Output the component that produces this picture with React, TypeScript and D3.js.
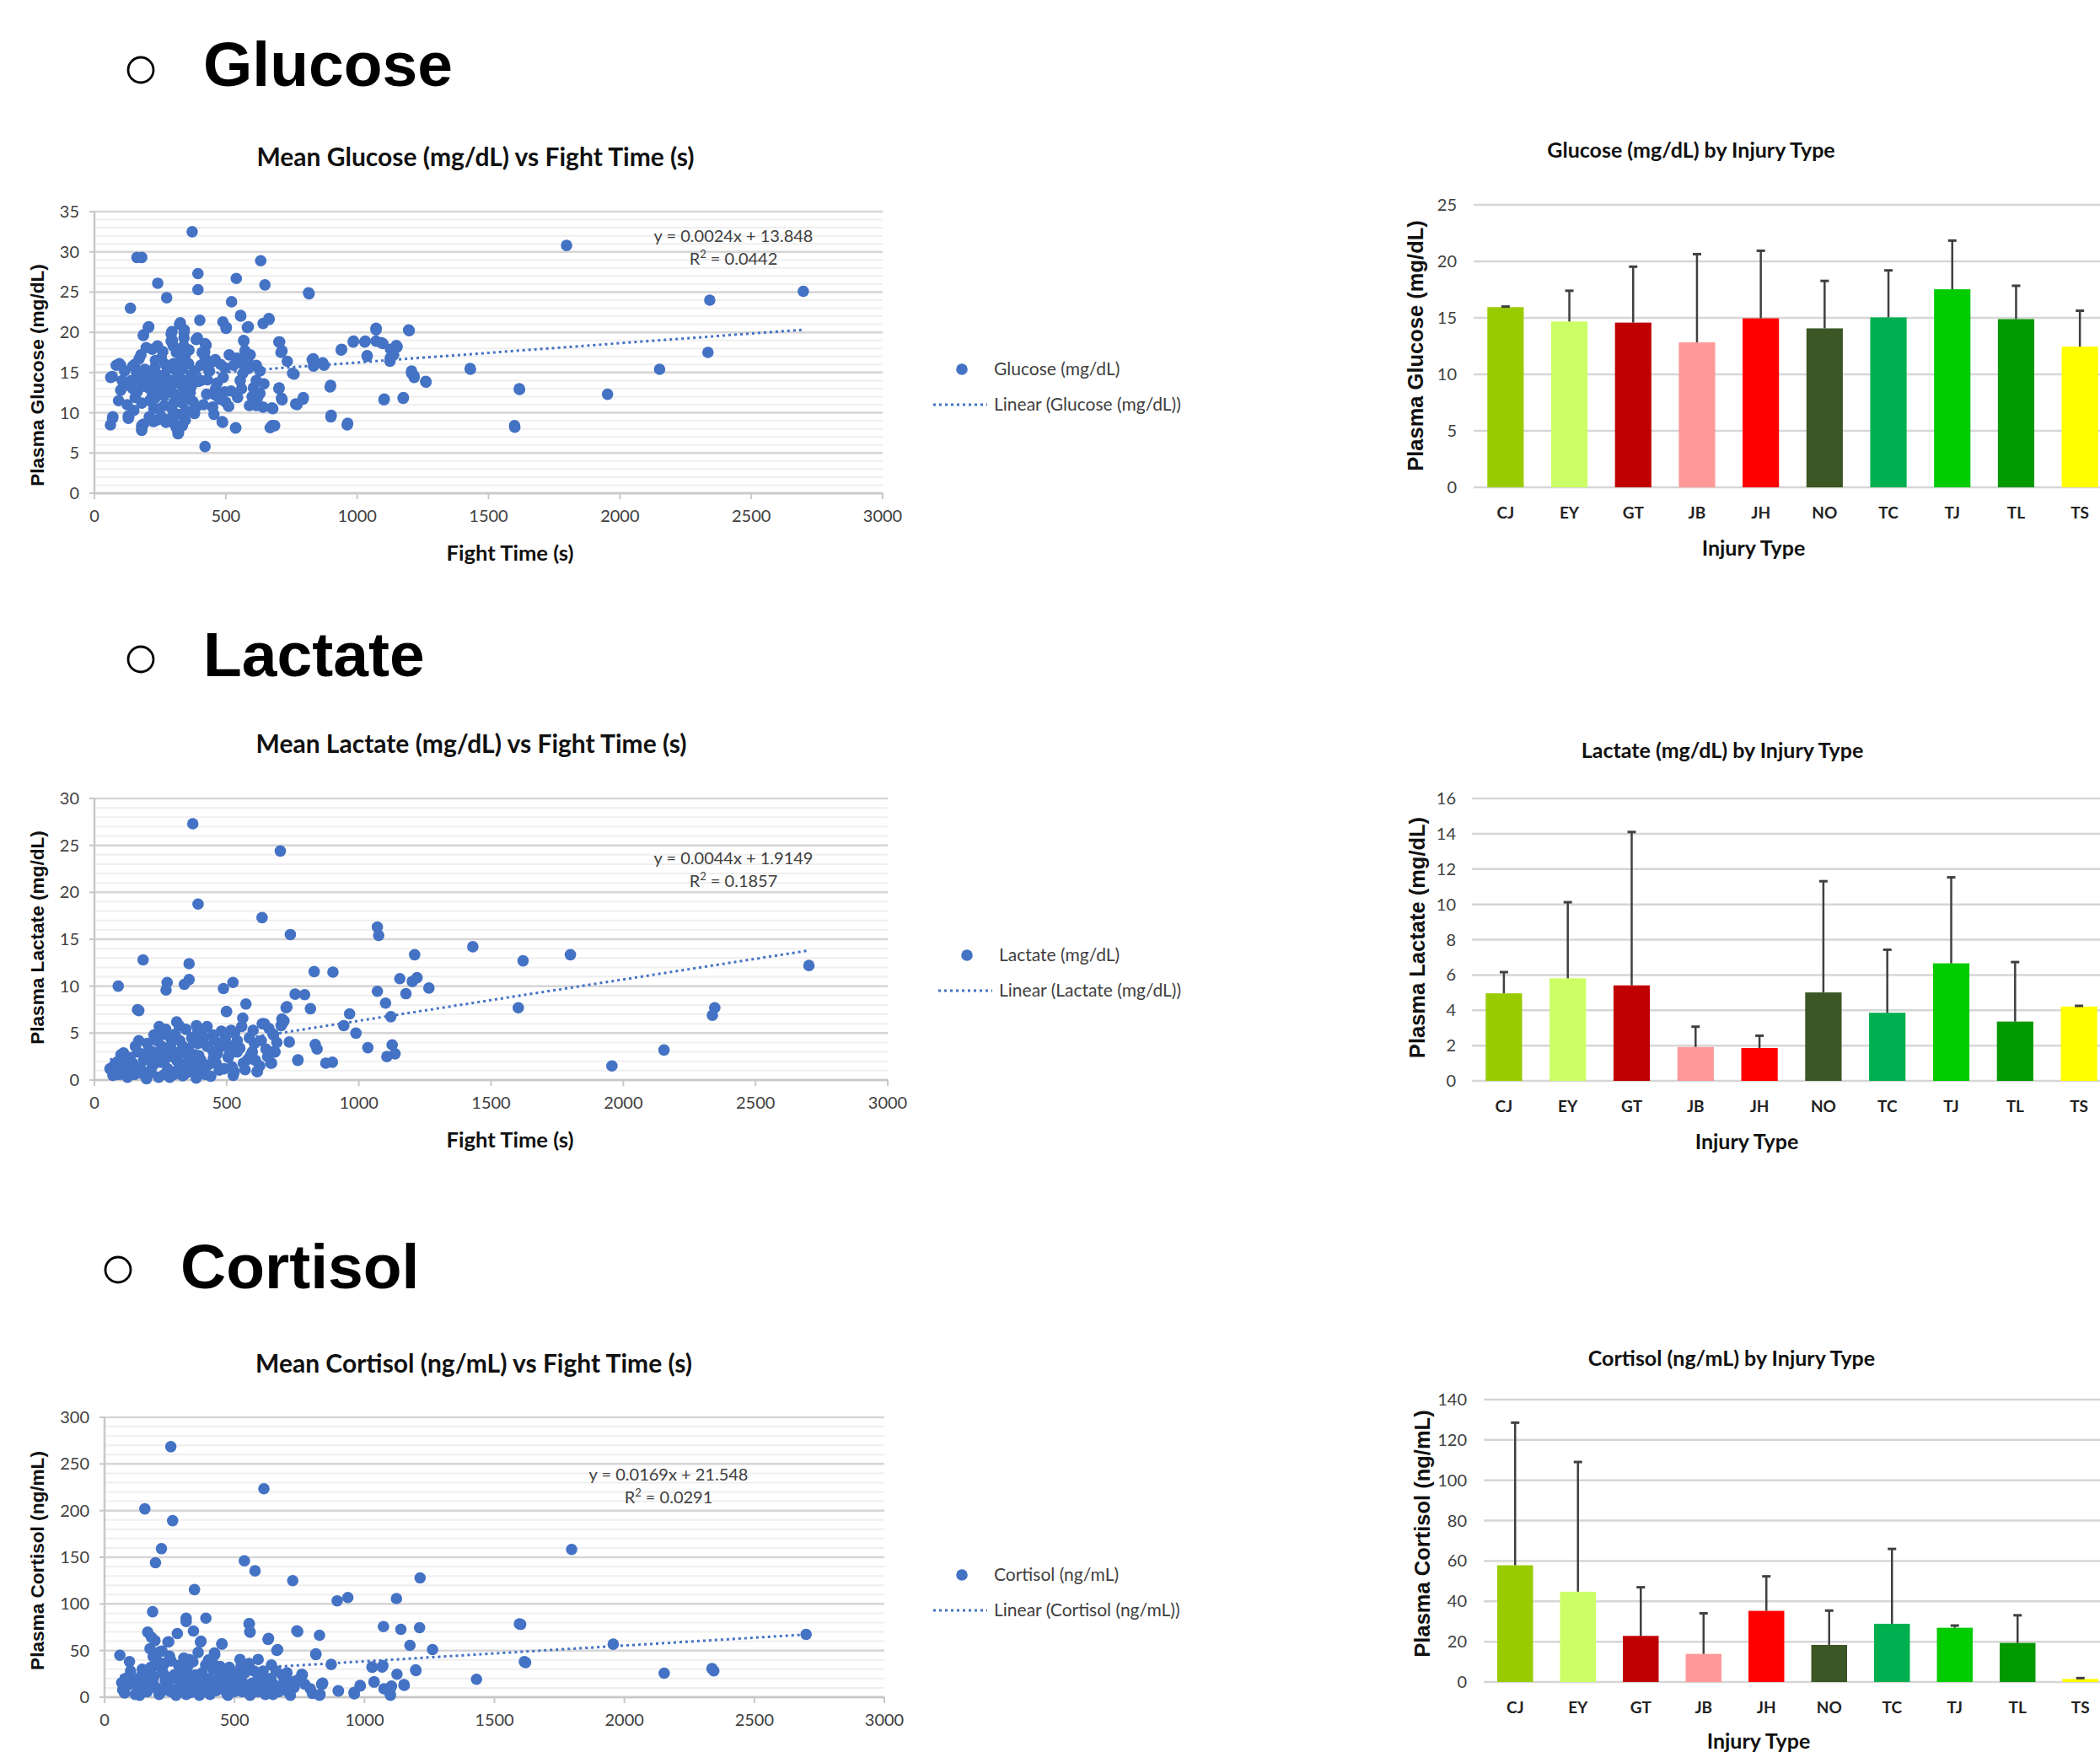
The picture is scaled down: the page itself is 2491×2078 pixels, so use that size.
import React from 'react'
import * as d3 from 'd3'

// ---- bar chart data (by injury type) ----
const injuryTypes = ['CJ', 'EY', 'GT', 'JB', 'JH', 'NO', 'TC', 'TJ', 'TL', 'TS']
const injuryColors = ['#99CC00', '#CCFF66', '#C00000', '#FF9999', '#FF0000', '#3B5725', '#00B050', '#00CC00', '#009900', '#FFFF00']

const glucoseMeans = [15.95, 14.68, 14.58, 12.83, 14.96, 14.07, 15.04, 17.53, 14.89, 12.45]
const glucoseErr = [0.05, 2.72, 4.95, 7.81, 5.98, 4.2, 4.16, 4.31, 2.95, 3.18]
const lactateMeans = [4.96, 5.81, 5.41, 1.92, 1.86, 5.01, 3.86, 6.66, 3.36, 4.21]
const lactateErr = [1.2, 4.31, 8.69, 1.15, 0.7, 6.3, 3.57, 4.87, 3.37, 0.04]
const cortisolMeans = [57.87, 44.76, 22.87, 13.94, 35.28, 18.4, 28.87, 26.9, 19.38, 1.53]
const cortisolErr = [70.7, 64.3, 24.1, 20.1, 17.1, 17.0, 37.1, 1.1, 13.7, 0.42]

// ---- scatter data: [fight time (s), value] ----
const glucosePoints: [number, number][] = [
  [372, 32.5], [162, 29.3], [180, 29.3], [633, 28.9], [394, 27.3], [540, 26.7], [649, 25.9], [241, 26.1],
  [394, 25.3], [815, 24.9], [275, 24.3], [522, 23.8], [137, 23.0], [556, 22.1], [664, 21.7], [401, 21.5],
  [642, 21.1], [327, 21.2], [489, 21.3], [502, 20.6], [207, 20.7], [586, 20.7], [187, 19.7], [295, 20.1],
  [342, 20.3], [1072, 20.5], [1196, 20.3], [297, 19.0], [392, 19.3], [568, 19.0], [986, 18.9], [1031, 18.9],
  [705, 18.8], [421, 18.6], [1092, 18.7], [1149, 18.35], [941, 17.9], [714, 17.7], [1038, 17.1], [1126, 16.8],
  [734, 16.4], [833, 16.7], [869, 16.2], [1430, 15.5], [2698, 25.1], [2342, 24.0], [1797, 30.8], [2335, 17.5],
  [2151, 15.4], [1617, 13.0], [1953, 12.3], [1599, 8.4], [1207, 15.2], [1216, 14.6], [1261, 13.9], [1103, 11.7],
  [1176, 11.9], [964, 8.7], [901, 9.7], [899, 13.4], [795, 11.9], [766, 11.1], [712, 11.8], [703, 13.1],
  [754, 14.9], [676, 10.6], [676, 8.4], [669, 8.15], [486, 8.9], [538, 8.15], [421, 5.8], [320, 7.5],
  [180, 8.0], [187, 8.6], [61, 8.5], [70, 9.5], [131, 9.5], [92, 11.5], [68, 14.5], [95, 16.1], [153, 16.0],
  [69, 9.3], [62, 14.4], [83, 15.9], [100, 15.9], [129, 9.6], [129, 9.3], [146, 15.8], [180, 8.4], [180, 7.8],
  [177, 17.2], [186, 19.6], [205, 20.6], [197, 18.1], [220, 17.9], [292, 19.8], [292, 18.9], [324, 21.0],
  [341, 20.0], [341, 19.3], [387, 19.1], [425, 18.4], [410, 17.5], [421, 16.8], [436, 15.2], [501, 20.5],
  [557, 22.0], [582, 20.6], [569, 18.9], [573, 17.7], [593, 17.2], [665, 21.6], [616, 15.9], [630, 15.2],
  [702, 18.8], [710, 17.5], [760, 14.8], [702, 13.0], [714, 11.6], [679, 10.5], [686, 8.4], [642, 10.7],
  [616, 10.9], [590, 10.9], [630, 12.4], [605, 13.1], [555, 14.0], [560, 13.0], [537, 8.1], [488, 8.8],
  [511, 10.8], [450, 10.7], [478, 11.7], [456, 12.3], [427, 12.3], [461, 13.0], [490, 14.4], [496, 15.6],
  [438, 15.2], [381, 9.9], [346, 9.1], [318, 7.4], [312, 8.1], [272, 8.8], [238, 9.1], [209, 9.5], [226, 10.5],
  [266, 10.9], [295, 10.5], [324, 9.8], [335, 11.2], [358, 11.9], [369, 13.3], [335, 13.3], [312, 14.0],
  [289, 12.6], [266, 12.1], [243, 12.6], [220, 12.1], [180, 11.2], [163, 12.6], [146, 13.0], [129, 13.7],
  [106, 14.0], [180, 13.7], [197, 14.4], [215, 14.9], [243, 14.7], [266, 14.7], [192, 15.4], [232, 16.5],
  [255, 16.8], [278, 15.4], [301, 16.1], [312, 17.5], [335, 17.7], [358, 16.1], [381, 15.2], [404, 14.0],
  [335, 15.4], [312, 15.2], [289, 14.0], [369, 14.7], [346, 12.6], [324, 11.9], [301, 11.2], [249, 10.5],
  [266, 13.7], [226, 13.7], [163, 14.4], [140, 14.0], [346, 14.0], [467, 13.7], [496, 12.6], [530, 15.9],
  [542, 16.8], [513, 17.2], [565, 16.1], [587, 16.1], [576, 16.8], [616, 14.0], [817, 24.8], [829, 16.6],
  [834, 15.8], [874, 15.9], [897, 13.2], [900, 9.5], [962, 8.5], [939, 17.8], [985, 18.8], [1029, 18.8],
  [1072, 20.3], [1072, 18.9], [1098, 18.6], [1038, 17.0], [1127, 17.9], [1152, 18.2], [1139, 17.2],
  [1125, 16.4], [1198, 20.2], [1207, 14.9], [1217, 14.4], [1262, 13.8], [1102, 11.6], [1175, 11.8],
  [1431, 15.4], [1618, 12.9], [1600, 8.2], [771, 11.0], [794, 11.7],
  [100, 12.8], [115, 15.2], [125, 11.0], [150, 10.3], [160, 15.1], [170, 16.7], [205, 13.1], [210, 11.5],
  [230, 15.6], [250, 14.0], [260, 12.9], [270, 16.0], [285, 15.8], [300, 13.6], [305, 12.3], [320, 14.6],
  [330, 16.6], [345, 17.0], [355, 13.8], [365, 12.5], [375, 11.4], [385, 10.6], [395, 13.9], [405, 15.9],
  [415, 11.0], [430, 14.1], [445, 16.3], [455, 9.8], [470, 12.0], [480, 16.0], [500, 11.3], [520, 12.7],
  [545, 11.9], [565, 14.9], [585, 15.5], [600, 12.0], [620, 11.8], [645, 13.6], [225, 8.9], [255, 9.5],
  [290, 9.3], [305, 8.6], [335, 8.4], [350, 10.2], [230, 11.8], [190, 13.3], [155, 11.9], [110, 13.3],
  [340, 18.3], [300, 18.3], [260, 17.6], [240, 18.3], [360, 17.8], [460, 16.6], [420, 17.6],
]

const lactatePoints: [number, number][] = [
  [372, 27.3], [703, 24.4], [392, 18.75], [634, 17.3], [741, 15.5], [1070, 16.3], [1075, 15.4], [1431, 14.2],
  [1211, 13.35], [1621, 12.7], [1800, 13.35], [2702, 12.2], [2346, 7.7], [2337, 6.9], [1603, 7.7], [2154, 3.2],
  [1957, 1.5], [184, 12.8], [358, 12.4], [90, 10.0], [275, 10.4], [271, 9.6], [358, 10.7], [340, 10.2],
  [488, 9.75], [524, 10.4], [163, 7.5], [168, 7.4], [499, 7.3], [573, 8.1], [831, 11.55], [902, 11.5],
  [759, 9.15], [795, 9.1], [725, 7.7], [817, 7.6], [1070, 9.45], [1101, 8.2], [1178, 9.2], [1155, 10.8],
  [1220, 10.9], [1202, 10.5], [1265, 9.8], [1121, 6.75], [965, 7.05], [943, 5.8], [989, 5.0], [737, 4.05],
  [770, 2.15], [835, 3.8], [842, 3.3], [875, 1.8], [900, 1.9], [1034, 3.45], [1126, 3.75], [1137, 2.8],
  [1106, 2.5], [710, 6.0], [728, 7.8], [676, 4.9], [678, 3.0], [636, 6.0], [667, 1.8], [616, 0.9],
  [59, 1.2], [100, 2.7], [105, 0.9], [134, 2.4], [168, 4.2], [151, 0.6], [197, 0.15], [225, 4.8], [245, 5.7],
  [240, 2.4], [265, 0.6], [288, 4.5], [311, 6.2], [346, 5.4], [386, 5.8], [391, 3.9], [426, 5.7], [449, 4.8],
  [420, 0.6], [368, 0.9], [323, 1.8], [300, 3.0], [277, 1.2], [220, 1.5], [186, 2.1], [140, 0.9], [254, 3.6],
  [334, 3.6], [357, 2.4], [403, 2.1], [460, 1.8], [483, 3.6], [500, 7.3], [517, 5.3], [540, 3.0], [561, 6.6],
  [557, 5.7], [586, 4.5], [615, 0.9], [635, 6.0], [643, 6.0], [631, 4.2], [649, 3.3], [677, 4.8], [683, 3.0],
  [670, 1.8], [709, 6.5], [717, 6.3], [706, 5.8], [769, 2.1], [609, 2.1], [563, 1.8], [529, 0.9], [506, 2.4],
  [472, 1.05], [597, 3.0], [117, 1.8], [208, 0.9], [300, 0.6], [391, 1.35], [334, 0.45], [243, 0.3],
  [174, 1.2], [265, 2.1], [311, 2.1], [380, 2.7], [449, 3.0], [426, 3.6], [288, 3.6], [220, 3.0], [163, 3.0],
  [128, 1.5], [94, 0.6], [254, 4.8], [323, 4.2], [368, 4.5], [472, 3.9], [517, 3.6], [391, 5.1], [75, 1.6],
  [212, 2.6], [280, 2.8], [352, 1.6], [410, 1.0], [450, 2.3], [520, 1.4], [580, 2.2], [540, 4.2], [600, 5.3],
  [70, 0.5], [85, 1.9], [110, 2.9], [125, 0.3], [145, 1.8], [155, 3.6], [180, 0.7], [190, 2.8], [200, 3.9],
  [215, 0.8], [230, 2.0], [235, 4.2], [250, 1.9], [260, 3.1], [270, 5.4], [285, 0.3], [295, 2.5], [305, 4.9],
  [315, 1.1], [330, 2.9], [345, 0.7], [355, 3.3], [365, 2.0], [375, 4.0], [385, 0.2], [395, 2.6], [415, 4.6],
  [430, 1.6], [440, 0.4], [455, 4.2], [465, 2.8], [490, 1.2], [495, 4.4], [510, 2.7], [525, 0.5], [550, 3.4],
  [570, 1.1], [590, 2.6], [605, 3.9], [625, 1.5], [655, 2.5], [660, 5.5], [690, 4.0], [530, 5.0], [480, 5.2],
  [320, 5.8], [265, 5.2],
]

const cortisolPoints: [number, number][] = [
  [255, 268.5], [613, 223.4], [155, 201.8], [262, 189.2], [219, 159.2], [196, 144.1], [538, 146.2],
  [579, 135.4], [724, 124.9], [1214, 127.9], [1797, 158.3], [346, 115.3], [895, 103.3], [936, 106.9],
  [1123, 105.7], [185, 91.6], [314, 84.7], [314, 81.1], [390, 84.7], [556, 78.7], [560, 69.7], [1073, 75.7],
  [1140, 72.7], [1212, 74.5], [1601, 78.1], [2699, 67.3], [1957, 56.8], [2153, 25.8], [2337, 30.6],
  [2344, 28.2], [1620, 37.2], [1431, 19.2], [743, 70.3], [827, 66.4], [629, 61.9], [663, 50.2], [813, 45.6],
  [872, 35.1], [1175, 55.6], [1262, 51.1], [1198, 28.5], [1030, 32.1], [1068, 32.4], [1125, 24.6],
  [1037, 16.2], [1153, 12.6], [984, 12.0], [961, 3.6], [900, 6.6], [1100, 9.6], [1100, 2.1], [836, 14.1],
  [827, 2.1], [759, 24.6], [702, 26.1], [59, 45.0], [96, 38.1], [166, 69.7], [180, 64.3], [194, 60.7],
  [244, 59.2], [280, 68.2], [342, 70.9], [369, 59.2], [451, 57.1], [424, 45.6], [212, 48.6], [178, 32.1],
  [66, 15.6], [95, 13.5], [77, 4.5], [141, 22.5], [118, 3.0], [187, 43.5], [181, 31.5], [221, 49.5],
  [247, 59.4], [371, 60.0], [325, 40.5], [360, 48.0], [389, 34.5], [423, 47.4], [452, 57.0], [452, 27.0],
  [417, 30.0], [256, 39.0], [221, 30.0], [268, 24.0], [302, 30.0], [337, 21.0], [380, 18.0], [187, 15.0],
  [233, 18.0], [291, 12.0], [164, 6.0], [210, 3.0], [256, 6.0], [314, 3.0], [360, 9.0], [406, 3.0],
  [459, 9.0], [498, 6.0], [521, 40.5], [556, 36.0], [591, 40.5], [642, 34.5], [631, 63.0], [666, 51.0],
  [557, 78.9], [559, 70.2], [761, 24.0], [740, 71.1], [813, 46.5], [836, 13.5], [829, 3.0], [899, 6.9],
  [960, 5.1], [983, 12.6], [1029, 32.4], [1071, 33.9], [1037, 16.5], [1075, 9.0], [1098, 4.5], [1104, 12.0],
  [1152, 13.5], [1197, 29.4], [1596, 78.6], [1615, 38.1], [619, 3.0], [648, 3.0], [683, 9.0], [706, 6.0],
  [729, 10.5], [792, 9.0], [839, 15.0], [487, 18.0], [510, 24.0], [533, 15.0], [568, 15.0], [591, 19.5],
  [614, 15.0], [475, 24.0], [683, 24.0], [706, 18.0], [740, 18.0], [130, 10.0], [150, 18.0], [200, 10.0],
  [240, 14.0], [270, 8.0], [300, 16.0], [330, 11.0], [350, 24.0], [380, 6.0], [420, 12.0], [440, 20.0],
  [470, 4.0], [500, 12.0], [530, 6.0], [580, 9.0], [600, 22.0], [650, 14.0], [110, 20.0], [280, 22.0],
  [320, 33.0], [230, 36.0], [400, 40.0], [540, 26.0], [480, 32.0], [660, 28.0], [720, 12.0],
  [70, 8], [80, 20], [100, 28], [120, 14], [135, 2], [145, 30], [160, 26], [170, 9], [175, 52], [190, 22],
  [205, 38], [215, 5], [225, 26], [235, 8], [250, 44], [260, 20], [275, 2], [285, 34], [295, 9], [305, 42],
  [315, 25], [330, 5], [340, 38], [355, 16], [365, 2], [375, 26], [390, 12], [405, 20], [415, 38], [430, 7],
  [445, 33], [460, 15], [475, 2], [490, 27], [505, 20], [515, 8], [525, 33], [545, 12], [560, 2], [575, 28],
  [590, 6], [610, 28], [625, 10], [640, 20], [670, 6], [690, 16], [715, 2], [770, 14], [800, 4],
]

const fightTicks = [0, 500, 1000, 1500, 2000, 2500, 3000]

const BLUE = '#4472C4'
const LABEL_FONT = 'Lato, "Open Sans", sans-serif'
const AXIS_TITLE_FONT = '"Liberation Sans", Arial, sans-serif'

type Box = { left: number; right: number; top: number; bottom: number }

function Scatter(props: {
  points: [number, number][]
  box: Box
  yMax: number
  yStep: number
  minor: number
  slope: number
  intercept: number
  eq: string
  r2: string
  eqX: number
  eqY: number
  title: string
  titleX: number
  titleY: number
  yTitle: string
  yTitleX: number
  yTitleY: number
  xTitleY: number
  legendName: string
  legendX: number
  legendY: number
}) {
  const { box, points } = props
  const x = d3.scaleLinear().domain([0, 3000]).range([box.left, box.right])
  const y = d3.scaleLinear().domain([0, props.yMax]).range([box.bottom, box.top])
  const minorTicks = d3.range(0, props.yMax + 0.001, props.minor)
  const majorTicks = d3.range(0, props.yMax + 0.001, props.yStep)
  const xs = points.map(p => p[0])
  const x0 = d3.min(xs) as number
  const x1 = d3.max(xs) as number
  const trend = d3.line<number>().x(d => x(d)).y(d => y(props.slope * d + props.intercept))

  return (
    <g>
      <text x={props.titleX} y={props.titleY} textAnchor="middle" fontFamily={LABEL_FONT} fontWeight={700} fontSize={30} fill="#111">
        {props.title}
      </text>
      {minorTicks.map(t => (
        <line key={'mi' + t} x1={box.left} x2={box.right} y1={y(t)} y2={y(t)} stroke="#efefef" strokeWidth={2} />
      ))}
      {majorTicks.map(t => (
        <line key={'ma' + t} x1={box.left} x2={box.right} y1={y(t)} y2={y(t)} stroke="#d6d6d6" strokeWidth={2.5} />
      ))}
      <line x1={box.left} x2={box.left} y1={box.top} y2={box.bottom} stroke="#c8c8c8" strokeWidth={2.5} />
      <line x1={box.left} x2={box.right} y1={box.bottom} y2={box.bottom} stroke="#c8c8c8" strokeWidth={2.5} />
      {majorTicks.map(t => (
        <g key={'yt' + t}>
          <line x1={box.left - 6} x2={box.left} y1={y(t)} y2={y(t)} stroke="#c8c8c8" strokeWidth={2} />
          <text x={box.left - 18} y={y(t) + 7} textAnchor="end" fontFamily={LABEL_FONT} fontSize={20} fill="#404040">
            {t}
          </text>
        </g>
      ))}
      {fightTicks.map(t => (
        <g key={'xt' + t}>
          <line x1={x(t)} x2={x(t)} y1={box.bottom} y2={box.bottom + 7} stroke="#c8c8c8" strokeWidth={2} />
          <text x={x(t)} y={box.bottom + 34} textAnchor="middle" fontFamily={LABEL_FONT} fontSize={20} fill="#404040">
            {t}
          </text>
        </g>
      ))}
      <path d={trend([x0, x1]) || ''} fill="none" stroke={BLUE} strokeWidth={3} strokeDasharray="3 4" />
      {points.map((p, i) => (
        <circle key={i} cx={x(p[0])} cy={y(p[1])} r={6.8} fill={BLUE} />
      ))}
      <text x={props.eqX} y={props.eqY} textAnchor="middle" fontFamily={LABEL_FONT} fontSize={20} fill="#404040">
        {props.eq}
      </text>
      <text x={props.eqX} y={props.eqY + 27} textAnchor="middle" fontFamily={LABEL_FONT} fontSize={20} fill="#404040">
        R<tspan fontSize={13} dy={-8}>2</tspan>
        <tspan dy={8}>{' = ' + props.r2}</tspan>
      </text>
      <text
        transform={`translate(${props.yTitleX},${props.yTitleY}) rotate(-90)`}
        textAnchor="middle"
        fontFamily={AXIS_TITLE_FONT}
        fontWeight={700}
        fontSize={22.6}
        fill="#111"
      >
        {props.yTitle}
      </text>
      <text x={605} y={props.xTitleY} textAnchor="middle" fontFamily={LABEL_FONT} fontWeight={700} fontSize={25.6} fill="#111">
        Fight Time (s)
      </text>
      <circle cx={props.legendX} cy={props.legendY} r={6.8} fill={BLUE} />
      <text x={props.legendX + 38} y={props.legendY + 7} fontFamily={LABEL_FONT} fontSize={21} fill="#404040">
        {props.legendName}
      </text>
      <line
        x1={props.legendX - 34}
        x2={props.legendX + 30}
        y1={props.legendY + 42}
        y2={props.legendY + 42}
        stroke={BLUE}
        strokeWidth={3}
        strokeDasharray="3 4"
      />
      <text x={props.legendX + 38} y={props.legendY + 49} fontFamily={LABEL_FONT} fontSize={21} fill="#404040">
        {'Linear (' + props.legendName + ')'}
      </text>
    </g>
  )
}

function Bars(props: {
  means: number[]
  errs: number[]
  yMax: number
  yStep: number
  left: number
  step: number
  top: number
  bottom: number
  labelRight: number
  title: string
  titleX: number
  titleY: number
  yTitle: string
  yTitleX: number
  yTitleY: number
  xTitleX: number
  xTitleY: number
}) {
  const x = d3
    .scaleBand<string>()
    .domain(injuryTypes)
    .range([props.left, props.left + props.step * injuryTypes.length])
    .paddingInner(0.43)
    .paddingOuter(0.215)
  const y = d3.scaleLinear().domain([0, props.yMax]).range([props.bottom, props.top])
  const ticks = d3.range(0, props.yMax + 0.001, props.yStep)
  const bw = x.bandwidth()
  return (
    <g>
      <text x={props.titleX} y={props.titleY} textAnchor="middle" fontFamily={LABEL_FONT} fontWeight={700} fontSize={25} fill="#111">
        {props.title}
      </text>
      {ticks.map(t => (
        <g key={t}>
          <line x1={props.left} x2={2491} y1={y(t)} y2={y(t)} stroke="#d6d6d6" strokeWidth={2.5} />
          <text x={props.labelRight} y={y(t) + 7} textAnchor="end" fontFamily={LABEL_FONT} fontSize={20} fill="#404040">
            {t}
          </text>
        </g>
      ))}
      {injuryTypes.map((c, i) => {
        const cx = (x(c) as number) + bw / 2
        const top = y(props.means[i])
        const et = y(props.means[i] + props.errs[i])
        return (
          <g key={c}>
            <rect x={x(c)} y={top} width={bw} height={props.bottom - top} fill={injuryColors[i]} />
            <line x1={cx} x2={cx} y1={top} y2={et} stroke="#404040" strokeWidth={2.5} />
            <line x1={cx - 5} x2={cx + 5} y1={et} y2={et} stroke="#404040" strokeWidth={3} />
            <text x={cx} y={props.bottom + 37} textAnchor="middle" fontFamily={LABEL_FONT} fontWeight={700} fontSize={19} fill="#222">
              {c}
            </text>
          </g>
        )
      })}
      <text
        transform={`translate(${props.yTitleX},${props.yTitleY}) rotate(-90)`}
        textAnchor="middle"
        fontFamily={AXIS_TITLE_FONT}
        fontWeight={700}
        fontSize={25.5}
        fill="#111"
      >
        {props.yTitle}
      </text>
      <text x={props.xTitleX} y={props.xTitleY} textAnchor="middle" fontFamily={LABEL_FONT} fontWeight={700} fontSize={25} fill="#111">
        Injury Type
      </text>
    </g>
  )
}

function Heading(props: { cx: number; cy: number; x: number; y: number; text: string }) {
  return (
    <g>
      <circle cx={props.cx} cy={props.cy} r={15} fill="none" stroke="#000" strokeWidth={2.8} />
      <text x={props.x} y={props.y} fontFamily={AXIS_TITLE_FONT} fontWeight={700} fontSize={75} fill="#000">
        {props.text}
      </text>
    </g>
  )
}

export default function App() {
  return (
    <div style={{ position: 'absolute', left: 0, top: 0 }}>
      <svg width={2491} height={2078} style={{ display: 'block', background: '#fff' }}>
        <Heading cx={167} cy={83} x={241} y={102} text="Glucose" />
        <Heading cx={167} cy={782} x={241} y={802} text="Lactate" />
        <Heading cx={140} cy={1506} x={214} y={1528} text="Cortisol" />

        <Scatter
          points={glucosePoints}
          box={{ left: 112, right: 1047, top: 251, bottom: 585 }}
          yMax={35}
          yStep={5}
          minor={1}
          slope={0.0024}
          intercept={13.848}
          eq="y = 0.0024x + 13.848"
          r2="0.0442"
          eqX={870}
          eqY={287}
          title="Mean Glucose (mg/dL) vs Fight Time (s)"
          titleX={564}
          titleY={197}
          yTitle="Plasma Glucose (mg/dL)"
          yTitleX={52}
          yTitleY={445}
          xTitleY={665}
          legendName="Glucose (mg/dL)"
          legendX={1141}
          legendY={438}
        />
        <Scatter
          points={lactatePoints}
          box={{ left: 112, right: 1053, top: 947, bottom: 1281 }}
          yMax={30}
          yStep={5}
          minor={1}
          slope={0.0044}
          intercept={1.9149}
          eq="y = 0.0044x + 1.9149"
          r2="0.1857"
          eqX={870}
          eqY={1025}
          title="Mean Lactate (mg/dL) vs Fight Time (s)"
          titleX={559}
          titleY={893}
          yTitle="Plasma Lactate (mg/dL)"
          yTitleX={52}
          yTitleY={1112}
          xTitleY={1361}
          legendName="Lactate (mg/dL)"
          legendX={1147}
          legendY={1133}
        />
        <Scatter
          points={cortisolPoints}
          box={{ left: 124, right: 1049, top: 1681, bottom: 2013 }}
          yMax={300}
          yStep={50}
          minor={10}
          slope={0.0169}
          intercept={21.548}
          eq="y = 0.0169x + 21.548"
          r2="0.0291"
          eqX={793}
          eqY={1756}
          title="Mean Cortisol (ng/mL) vs Fight Time (s)"
          titleX={562}
          titleY={1628}
          yTitle="Plasma Cortisol (ng/mL)"
          yTitleX={52}
          yTitleY={1851}
          xTitleY={2098}
          legendName="Cortisol (ng/mL)"
          legendX={1141}
          legendY={1868}
        />

        <Bars
          means={glucoseMeans}
          errs={glucoseErr}
          yMax={25}
          yStep={5}
          left={1748}
          step={75.7}
          top={243}
          bottom={578}
          labelRight={1728}
          title="Glucose (mg/dL) by Injury Type"
          titleX={2006}
          titleY={187}
          yTitle="Plasma Glucose (mg/dL)"
          yTitleX={1688}
          yTitleY={410}
          xTitleX={2080}
          xTitleY={659}
        />
        <Bars
          means={lactateMeans}
          errs={lactateErr}
          yMax={16}
          yStep={2}
          left={1746}
          step={75.8}
          top={947}
          bottom={1282}
          labelRight={1727}
          title="Lactate (mg/dL) by Injury Type"
          titleX={2043}
          titleY={899}
          yTitle="Plasma Lactate (mg/dL)"
          yTitleX={1690}
          yTitleY={1112}
          xTitleX={2072}
          xTitleY={1363}
        />
        <Bars
          means={cortisolMeans}
          errs={cortisolErr}
          yMax={140}
          yStep={20}
          left={1760}
          step={74.5}
          top={1660}
          bottom={1995}
          labelRight={1740}
          title="Cortisol (ng/mL) by Injury Type"
          titleX={2054}
          titleY={1620}
          yTitle="Plasma Cortisol (ng/mL)"
          yTitleX={1696}
          yTitleY={1819}
          xTitleX={2086}
          xTitleY={2074}
        />
      </svg>
    </div>
  )
}
